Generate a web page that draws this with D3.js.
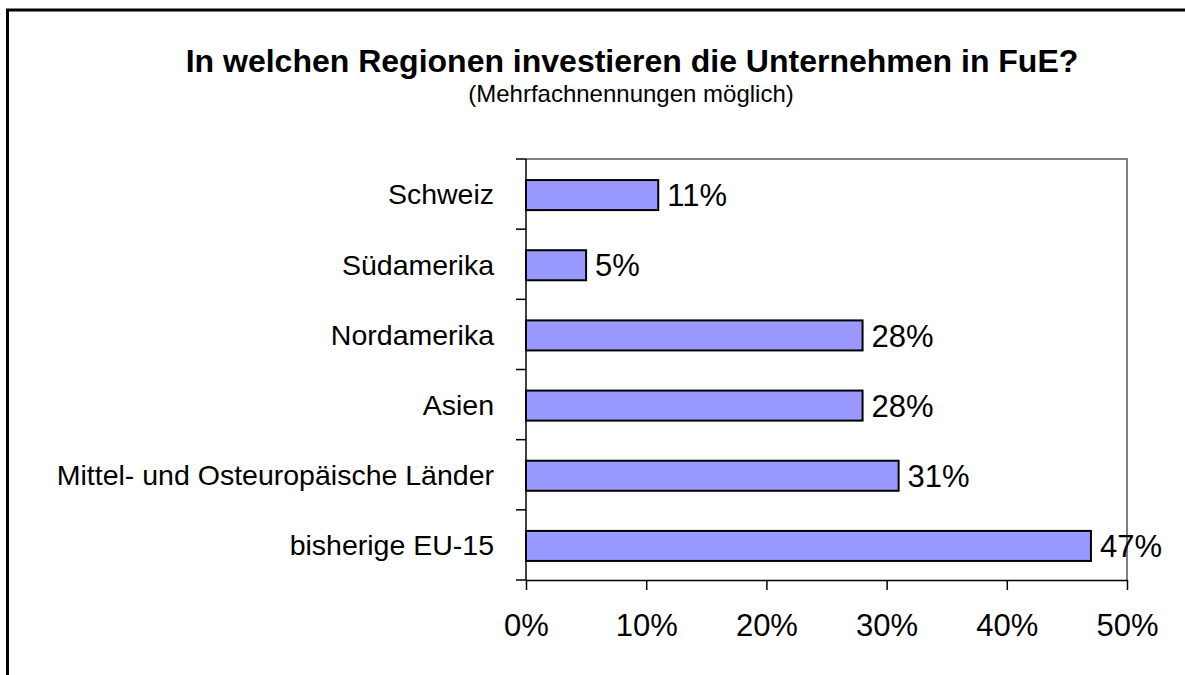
<!DOCTYPE html>
<html>
<head>
<meta charset="utf-8">
<script src="https://cdn.jsdelivr.net/npm/d3@7"></script>
<style>
  html, body { margin: 0; padding: 0; background: #fff; }
  svg { display: block; font-family: "Liberation Sans", Arial, sans-serif; }
</style>
</head>
<body>
<div id="chart"></div>
<script>
// chart data
const categories = ["Schweiz", "Südamerika", "Nordamerika", "Asien", "Mittel- und Osteuropäische Länder", "bisherige EU-15"];
const values = [11, 5, 28, 28, 31, 47];
const xTicks = [0, 10, 20, 30, 40, 50];
const titleText = "In welchen Regionen investieren die Unternehmen in FuE?";
const subtitleText = "(Mehrfachnennungen möglich)";

const width = 1185;
const height = 675;
const plot = {left: 526, right: 1127, top: 159, bottom: 580};

const svg = d3.select("#chart").append("svg")
  .attr("width", width)
  .attr("height", height);

// outer frame (runs off the right and bottom edge)
svg.append("rect")
  .attr("x", 7.5)
  .attr("y", 10)
  .attr("width", width + 20)
  .attr("height", height + 20)
  .attr("fill", "none")
  .attr("stroke", "#000")
  .attr("stroke-width", 3);

svg.append("text")
  .attr("x", 632)
  .attr("y", 72)
  .attr("text-anchor", "middle")
  .style("font-size", "32px")
  .style("font-weight", "bold")
  .text(titleText);

svg.append("text")
  .attr("x", 631)
  .attr("y", 102)
  .attr("text-anchor", "middle")
  .style("font-size", "24px")
  .text(subtitleText);

const x = d3.scaleLinear().domain([0, 50]).range([plot.left, plot.right]);
const y = d3.scaleBand().domain(categories)
  .range([plot.top, plot.bottom])
  .paddingInner(0.572)
  .paddingOuter(0.286);

// gray top / right border of plot area
svg.append("path")
  .attr("d", `M${plot.left},${plot.top}H${plot.right}V${plot.bottom}`)
  .attr("fill", "none")
  .attr("stroke", "#808080")
  .attr("stroke-width", 2);

// bars
svg.append("g").attr("class", "bars")
  .selectAll("rect")
  .data(categories)
  .enter().append("rect")
  .attr("x", x(0))
  .attr("y", d => y(d) + 1)
  .attr("width", (d, i) => x(values[i]) - x(0))
  .attr("height", y.bandwidth())
  .attr("fill", "#9999ff")
  .attr("stroke", "#000")
  .attr("stroke-width", 2);

// value labels
svg.append("g").attr("class", "values")
  .selectAll("text")
  .data(categories)
  .enter().append("text")
  .attr("x", (d, i) => x(values[i]) + 9)
  .attr("y", d => y(d) + y.bandwidth() / 2 + 1)
  .attr("dy", "0.36em")
  .style("font-size", "31px")
  .text((d, i) => values[i] + "%");

// category labels
svg.append("g").attr("class", "cats")
  .selectAll("text")
  .data(categories)
  .enter().append("text")
  .attr("x", 494)
  .attr("y", d => y(d) + y.bandwidth() / 2)
  .attr("dy", "0.36em")
  .attr("text-anchor", "end")
  .style("font-size", "28.5px")
  .text(d => d);

// y axis line + ticks between categories
const yAxis = svg.append("g").attr("class", "y-axis");
yAxis.append("line")
  .attr("x1", plot.left).attr("x2", plot.left)
  .attr("y1", plot.top).attr("y2", plot.bottom)
  .attr("stroke", "#000").attr("stroke-width", 1.5);
yAxis.selectAll("line.tick")
  .data(d3.range(categories.length + 1))
  .enter().append("line")
  .attr("class", "tick")
  .attr("x1", plot.left - 10).attr("x2", plot.left)
  .attr("y1", i => plot.top + i * y.step())
  .attr("y2", i => plot.top + i * y.step())
  .attr("stroke", "#000").attr("stroke-width", 1.5);

// x axis
const xAxis = svg.append("g")
  .attr("class", "x-axis")
  .attr("transform", `translate(0,${plot.bottom})`)
  .call(d3.axisBottom(x)
    .tickValues(xTicks)
    .tickFormat(d => d + "%")
    .tickSize(10)
    .tickSizeOuter(0)
    .tickPadding(24));

xAxis.select(".domain").attr("stroke", "#000").attr("stroke-width", 1.5);
xAxis.selectAll(".tick line").attr("stroke", "#000").attr("stroke-width", 1.5);
xAxis.selectAll(".tick text")
  .attr("fill", "#000")
  .style("font-size", "31px")
  .style("font-family", "\"Liberation Sans\", Arial, sans-serif");
</script>
</body>
</html>
